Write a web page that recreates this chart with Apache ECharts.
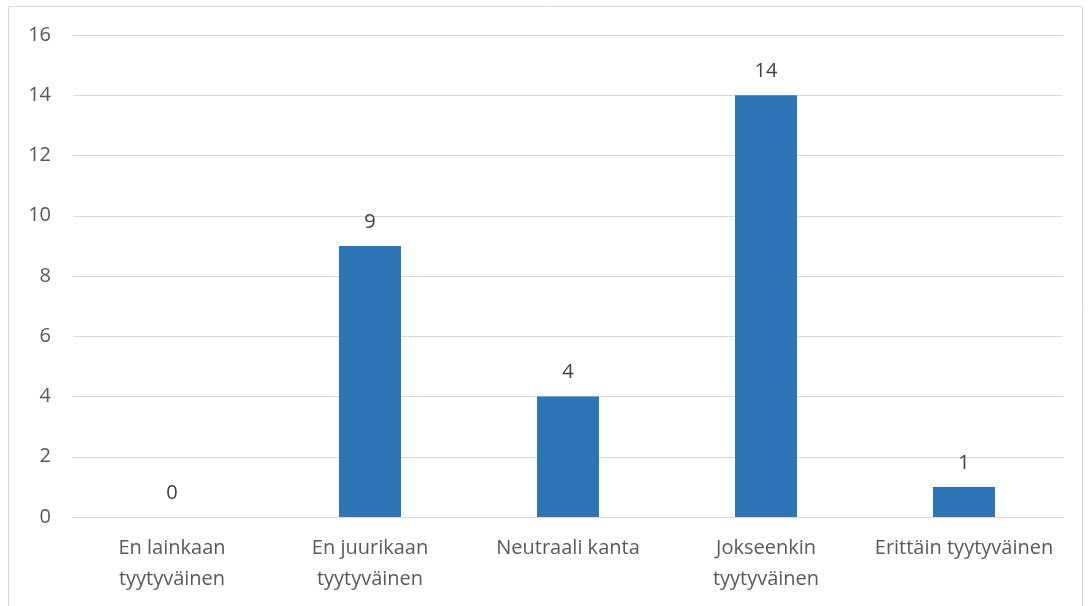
<!DOCTYPE html>
<html><head><meta charset="utf-8">
<script src="https://cdn.jsdelivr.net/npm/echarts@6/dist/echarts.min.js"></script>
<style>html,body{margin:0;padding:0;background:#fff}#c{width:1088px;height:606px}</style>
</head><body><div id="c"></div>
<script>
const categories = ['En lainkaan\ntyytyväinen', 'En juurikaan\ntyytyväinen', 'Neutraali kanta', 'Jokseenkin\ntyytyväinen', 'Erittäin tyytyväinen'];
const values = [0, 9, 4, 14, 1];
const yTicks = { min: 0, max: 16, interval: 2 };

const FONT = 'Open Sans';
const chart = echarts.init(document.getElementById('c'));
chart.setOption({
  animation: false,
  graphic: [{ type: 'rect', shape: { x: 8.5, y: 6.5, width: 1074, height: 610 }, style: { fill: 'none', stroke: '#d9d9d9', lineWidth: 1 }, silent: true }],
  grid: { left: 73, right: 25, top: 35, bottom: 89 },
  xAxis: {
    type: 'category', data: categories,
    axisLine: { show: true, lineStyle: { color: '#d9d9d9', width: 1 } },
    axisTick: { show: false },
    axisLabel: { color: '#595959', fontFamily: FONT, fontSize: 20, margin: 16, lineHeight: 31, interval: 0 }
  },
  yAxis: {
    type: 'value', min: yTicks.min, max: yTicks.max, interval: yTicks.interval,
    axisLine: { show: false }, axisTick: { show: false },
    splitLine: { lineStyle: { color: '#d9d9d9', width: 1 } },
    axisLabel: { color: '#595959', fontFamily: FONT, fontSize: 20, margin: 22 }
  },
  series: [{
    type: 'bar', data: values, barWidth: 62,
    itemStyle: { color: '#2E75B6' },
    label: { show: true, position: 'top', distance: 14, color: '#404040', fontFamily: FONT, fontSize: 20 }
  }]
});
</script></body></html>
